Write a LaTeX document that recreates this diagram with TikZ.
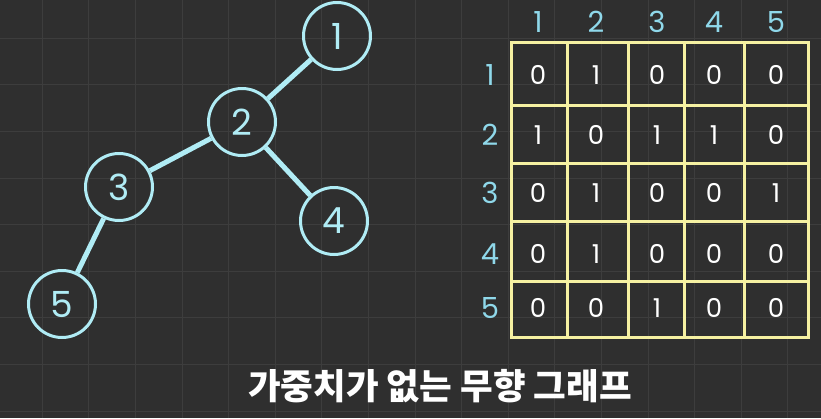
\documentclass[tikz,border=0pt]{standalone}
\usepackage{fontspec}
\setmainfont{Poppins}
\newfontfamily\krfont{Noto Sans CJK KR}

\definecolor{bg}{HTML}{2F2F2F}
\definecolor{gridgray}{HTML}{3D3D3D}
\definecolor{nodeblue}{HTML}{B0ECF5}
\definecolor{idxblue}{HTML}{8FD8EA}
\definecolor{boxyellow}{HTML}{F6F1A2}

\tikzset{
  gridline/.style={gridgray, line width=1pt},
  vertex/.style={circle, draw=nodeblue, line width=3pt, minimum size=67pt, inner sep=0pt, text=nodeblue, font=\fontsize{36}{36}\selectfont},
  link/.style={nodeblue, line width=5pt},
  boxline/.style={boxyellow, line width=3pt},
  idx/.style={text=idxblue, inner sep=0pt, font=\fontsize{29}{29}\selectfont},
  cell/.style={text=white, inner sep=0pt, font=\fontsize{26}{26}\selectfont},
  caption/.style={text=white, font=\krfont\bfseries\fontsize{35.5}{35.5}\selectfont}
}

\begin{document}
\begin{tikzpicture}[x=1pt, y=-1pt]
  \fill[bg] (0,0) rectangle (821,418);
  \useasboundingbox (0,0) rectangle (821,418);
  % background grid
  \foreach \i in {0,...,17} \draw[gridline] (42.3+46.6*\i,0) -- ++(0,418);
  \foreach \j in {0,...,8} \draw[gridline] (0,38.3+46.6*\j) -- ++(821,0);

  % graph
  \node[vertex] (n1) at (337,36) {1};
  \node[vertex] (n2) at (242,122) {2};
  \node[vertex] (n3) at (119,187) {3};
  \node[vertex] (n4) at (334,221) {4};
  \node[vertex] (n5) at (62,304) {5};
  \draw[link] (n1) -- (n2) (n2) -- (n3) (n2) -- (n4) (n3) -- (n5);

  % adjacency matrix
  \draw[boxline] (511.7,42.3) rectangle (808.3,337.3);
  \foreach \x in {567.3,628.3,684.3,744} \draw[boxline] (\x,42.3) -- (\x,337.3);
  \foreach \y in {105.7,163.3,221.7,281.7} \draw[boxline] (511.7,\y) -- (808.3,\y);
  \foreach \xc [count=\c] in {538,596,657,714,776} \coordinate (col\c) at (\xc,22);
  \foreach \yc [count=\r] in {75,135,193,254,308} \coordinate (row\r) at (490,\yc);
  \foreach \c in {1,...,5} \node[idx] (h\c) at (col\c) {\c};
  \foreach \r in {1,...,5} \node[idx] (r\r) at (row\r) {\r};
  \foreach \vals [count=\r] in {{0,1,0,0,0},{1,0,1,1,0},{0,1,0,0,1},{0,1,0,0,0},{0,0,1,0,0}}
    \foreach \v [count=\c] in \vals \node[cell] (v\r\c) at (col\c |- row\r) {\v};

  \node[caption] (title) at (440,386) {가중치가 없는 무향 그래프};
\end{tikzpicture}
\end{document}
